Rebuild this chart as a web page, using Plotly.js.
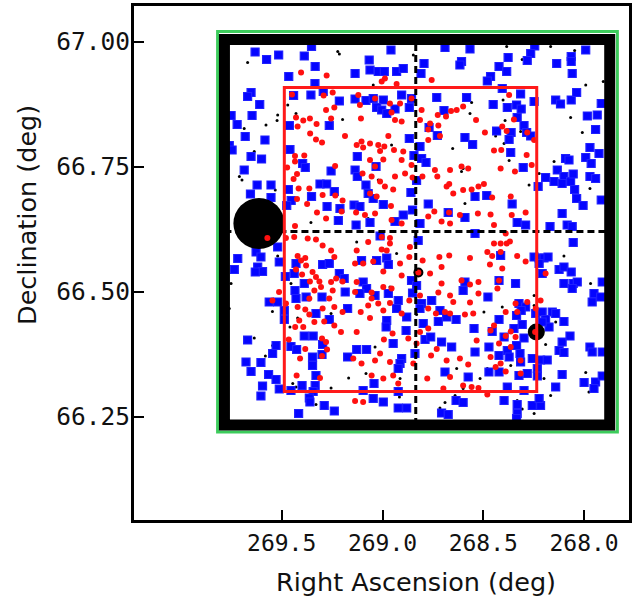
<!DOCTYPE html>
<html>
<head>
<meta charset="utf-8">
<script src="https://cdn.plot.ly/plotly-3.0.1.min.js"></script>
<style>html,body{margin:0;padding:0;background:#fff;}#chart{width:640px;height:600px;}</style>
</head>
<body>
<div id="chart"></div>
<script>
// Catalogue sources (RA, Dec in degrees)
const blueStars = [
[269.632,66.979],[269.575,66.964],[269.515,66.973],[269.388,66.971],[269.352,66.990],[269.334,66.950],[269.465,66.930],[269.335,66.916],[269.294,66.900],[269.355,66.893],
[269.441,66.892],[269.652,66.898],[269.669,66.890],[269.609,66.874],[269.647,66.852],[269.751,66.852],[269.721,66.834],[269.681,66.810],[269.583,66.803],[269.760,66.792],
[269.746,66.783],[269.652,66.770],[269.600,66.765],[269.686,66.743],[269.396,66.756],[269.383,66.748],[269.459,66.784],[269.462,66.832],[269.264,66.832],[269.214,66.881],
[269.255,66.741],[269.622,66.713],[269.553,66.713],[269.655,66.695],[269.553,66.688],[269.467,66.704],[269.453,66.682],[269.475,66.672],[269.310,66.715],[269.277,66.715],
[269.239,66.700],[269.352,66.690],[269.275,66.670],[269.211,66.666],[269.219,66.642],
[268.958,66.983],[269.066,66.963],[269.136,66.936],[269.062,66.943],[269.021,66.940],[268.991,66.940],[268.930,66.940],[268.897,66.946],[268.809,66.936],[268.794,66.956],
[268.690,66.988],[268.566,66.985],[268.608,66.960],[268.616,66.953],[269.136,66.885],[269.082,66.882],[269.046,66.886],[268.996,66.883],[269.029,66.868],[269.004,66.863],
[268.979,66.856],[268.938,66.865],[268.905,66.893],[268.867,66.868],[268.856,66.886],[268.731,66.888],[268.695,66.862],[268.583,66.888],[268.769,66.828],[268.728,66.812],
[268.591,66.808],[268.553,66.794],[268.867,66.806],[268.814,66.790],[268.844,66.772],[268.806,66.766],[268.784,66.758],[269.125,66.770],[269.032,66.750],[269.136,66.743],
[269.125,66.730],[269.082,66.713],[269.071,66.696],[269.046,66.686],[268.996,66.674],[268.859,66.698],[268.831,66.722],[268.773,66.675],[269.141,66.673],[269.112,66.670],
[268.897,66.653],[268.851,66.663],[268.674,66.658],[268.591,66.648],[269.131,66.633],[269.062,66.638],[268.938,66.640],[268.814,66.636],[268.541,66.690],
[268.245,66.991],[268.265,66.976],[268.282,66.962],[268.377,66.968],[268.422,66.950],[268.384,66.940],[268.464,66.930],[268.480,66.921],[268.136,66.956],[268.064,66.970],
[268.064,66.960],[268.059,66.936],[267.992,66.983],[268.406,66.906],[268.315,66.895],[268.451,66.874],[268.381,66.868],[268.335,66.873],[268.312,66.865],[268.248,66.880],
[268.141,66.883],[268.117,66.875],[268.064,66.883],[268.037,66.898],[267.915,66.876],[267.984,66.851],[267.935,66.853],[267.943,66.824],[268.332,66.848],[268.298,66.832],
[268.362,66.818],[268.434,66.821],[268.285,66.818],[268.265,66.811],[268.372,66.804],[268.364,66.778],[268.302,66.748],[267.971,66.788],[267.926,66.776],[267.992,66.768],
[267.965,66.756],[268.092,66.766],[268.075,66.763],[268.133,66.743],[268.191,66.728],[268.149,66.720],[268.100,66.730],[268.067,66.720],[268.054,66.735],[268.109,66.716],
[268.047,66.704],[267.971,66.730],[267.943,66.726],[268.228,66.710],[268.037,66.686],[268.005,66.672],[267.915,66.683],[268.483,66.692],[268.357,66.675],[268.109,66.656],
[268.169,66.630],[268.084,66.633],[268.059,66.630],[268.332,66.638],[268.290,66.633],
[269.627,66.579],[269.603,66.569],[269.520,66.589],[269.512,66.559],[269.718,66.566],[269.735,66.544],[269.619,66.549],[269.595,66.540],[269.631,66.539],[269.482,66.530],
[269.429,66.556],[269.438,66.536],[269.388,66.516],[269.379,66.489],[269.434,66.502],[269.429,66.486],[269.297,66.554],[269.300,66.489],[269.264,66.556],[269.214,66.536],
[269.190,66.526],[269.185,66.499],[269.173,66.466],[269.562,66.479],[269.520,66.479],[269.487,66.462],[269.487,66.444],[269.330,66.456],[269.264,66.444],[269.388,66.411],
[269.344,66.411],[269.454,66.390],[269.426,66.384],[269.297,66.394],[269.300,66.374],[269.347,66.369],[269.347,66.352],[269.528,66.392],[269.545,66.376],[269.669,66.403],
[269.677,66.359],[269.652,66.340],[269.603,66.358],[269.565,66.334],[269.528,66.324],[269.595,66.311],[269.603,66.291],[269.512,66.305],[269.454,66.302],[269.399,66.312],
[269.330,66.332],[269.334,66.312],[269.344,66.300],[269.363,66.287],[269.360,66.279],[269.289,66.272],[269.239,66.261],[269.416,66.256],[269.173,66.369],
[269.012,66.611],[268.823,66.602],[268.541,66.616],[269.104,66.562],[269.029,66.562],[268.979,66.567],[268.971,66.554],[269.096,66.519],[269.079,66.506],[269.112,66.496],
[268.971,66.496],[269.037,66.492],[268.922,66.482],[268.930,66.466],[268.880,66.449],[268.979,66.442],[268.982,66.429],[268.883,66.422],[268.947,66.396],[269.128,66.384],
[269.079,66.384],[268.905,66.366],[268.913,66.356],[268.922,66.346],[268.839,66.376],[268.856,66.522],[268.831,66.512],[268.851,66.497],[268.806,66.476],[268.814,66.466],
[268.756,66.482],[268.715,66.462],[268.682,66.449],[268.723,66.440],[268.635,66.444],[268.798,66.436],[268.789,66.404],[268.761,66.409],[268.707,66.399],[268.657,66.389],
[268.546,66.426],[268.541,66.379],[268.591,66.519],[268.600,66.502],[268.690,66.339],[268.575,66.329],[269.042,66.316],[269.096,66.302],[268.922,66.300],[269.046,66.286],
[268.996,66.279],[268.922,66.267],[268.880,66.267],[268.635,66.282],[268.600,66.278],[268.707,66.257],[268.674,66.254],
[268.054,66.598],[268.248,66.569],[268.223,66.567],[268.199,66.567],[268.179,66.569],[268.223,66.556],[268.208,66.536],[268.124,66.544],[268.100,66.549],[268.064,66.539],
[268.100,66.516],[268.054,66.516],[268.034,66.519],[268.059,66.506],[267.910,66.519],[267.951,66.496],[267.918,66.489],[267.960,66.479],[268.340,66.516],[268.422,66.522],
[268.477,66.489],[268.414,66.572],[268.323,66.476],[268.290,66.469],[268.312,66.462],[268.240,66.456],[268.208,66.459],[268.158,66.459],[268.141,66.456],[268.191,66.444],
[268.174,66.429],[268.208,66.439],[268.100,66.440],[268.335,66.452],[268.422,66.444],[268.456,66.420],[268.307,66.434],[268.348,66.426],[268.397,66.409],[268.298,66.407],
[268.335,66.392],[268.381,66.382],[268.472,66.389],[268.422,66.372],[268.372,66.369],[268.318,66.376],[268.315,66.359],[268.257,66.366],[268.216,66.363],[268.183,66.363],
[268.282,66.336],[268.232,66.346],[268.232,66.331],[268.323,66.332],[268.422,66.339],[268.472,66.339],[268.381,66.309],[268.298,66.302],[268.109,66.399],[268.124,66.382],
[268.070,66.411],[268.100,66.378],[268.109,66.334],[268.141,66.309],[268.000,66.318],[267.943,66.319],[267.951,66.306],[267.910,66.331],[267.971,66.389],[267.960,66.379],
[267.910,66.379],[268.397,66.282],[268.332,66.274],[268.332,66.256],[268.335,66.246],[268.257,66.272],[268.216,66.272],[268.223,66.286]
];

const redStars = [
[269.404,66.938],[269.277,66.932],[269.449,66.894],[269.292,66.892],[269.247,66.898],[269.280,66.863],[269.239,66.868],[269.429,66.848],[269.393,66.842],[269.360,66.846],
[269.421,66.830],[269.327,66.835],[269.255,66.846],[269.359,66.816],[269.330,66.804],[269.300,66.798],[269.186,66.811],[269.434,66.771],[269.388,66.772],[269.473,66.748],
[269.434,66.760],[269.424,66.735],[269.441,66.725],[269.235,66.751],[269.416,66.706],[269.363,66.706],[269.297,66.693],[269.234,66.692],[269.424,66.685],[269.374,66.675],
[269.325,66.658],[269.198,66.682],[269.203,66.660],[269.434,66.631],[269.280,66.646],
[269.004,66.920],[268.988,66.926],[268.930,66.915],[268.756,66.923],[269.120,66.893],[269.037,66.886],[269.112,66.873],[268.963,66.876],[268.913,66.876],[268.856,66.886],
[268.806,66.863],[269.107,66.846],[268.955,66.858],[268.938,66.843],[268.905,66.840],[268.814,66.843],[268.764,66.836],[268.726,66.853],[268.685,66.850],[268.660,66.861],
[268.632,66.863],[268.600,66.870],[268.536,66.843],[268.723,66.832],[268.773,66.824],[268.715,66.811],[268.773,66.803],[269.128,66.793],[269.096,66.788],[269.104,66.800],
[269.062,66.796],[269.021,66.793],[268.991,66.790],[268.971,66.811],[268.943,66.783],[268.897,66.780],[269.012,66.781],[269.062,66.763],[268.996,66.764],[269.037,66.750],
[268.905,66.763],[268.856,66.753],[269.099,66.736],[269.054,66.730],[269.012,66.720],[268.988,66.710],[268.938,66.730],[268.888,66.736],[268.851,66.728],[268.802,66.730],
[268.740,66.743],[268.728,66.730],[268.665,66.743],[268.608,66.750],[268.575,66.746],[268.669,66.715],[268.682,66.710],[268.649,66.696],[268.600,66.703],[268.558,66.704],
[268.524,66.710],[269.062,66.696],[269.029,66.690],[268.947,66.704],[268.958,66.671],[269.131,66.658],[269.087,66.653],[269.037,66.656],[268.743,66.660],[268.773,66.650],
[268.707,66.640],[268.670,66.658],[268.616,66.653],[268.527,66.656],[268.955,66.643],[268.905,66.636],[268.665,66.636],
[268.372,66.893],[268.348,66.844],[268.384,66.821],[268.492,66.818],[268.406,66.830],[268.282,66.818],[268.248,66.803],[268.447,66.782],[268.411,66.783],[268.285,66.773],
[268.260,66.753],[268.414,66.746],[268.343,66.740],[268.497,66.715],[268.456,66.688],[268.364,66.690],[268.464,66.654],[268.359,66.653],[268.290,66.658],[268.447,66.633],
[269.571,66.607],[269.479,66.607],[269.438,66.609],[269.371,66.606],[269.330,66.604],[269.297,66.592],[269.255,66.582],[269.239,66.569],[269.383,66.567],[269.421,66.571],
[269.379,66.552],[269.399,66.534],[269.347,66.539],[269.330,66.529],[269.360,66.520],[269.313,66.520],[269.305,66.509],[269.338,66.502],[269.363,66.486],[269.255,66.519],
[269.230,66.526],[269.198,66.520],[269.247,66.502],[269.264,66.486],[269.513,66.499],[269.546,66.482],[269.479,66.476],[269.421,66.469],[269.383,66.464],[269.363,66.454],
[269.297,66.466],[269.239,66.469],[269.198,66.459],[269.338,66.439],[269.289,66.440],[269.239,66.432],[269.206,66.419],[269.413,66.442],[269.433,66.429],[269.393,66.429],
[269.300,66.406],[269.280,66.399],[269.465,66.404],[269.383,66.385],[269.275,66.384],[269.409,66.366],[269.300,66.371],[269.310,66.327],[269.426,66.332],[269.429,66.544],
[269.404,66.562],
[269.071,66.599],[269.004,66.609],[268.963,66.607],[268.963,66.596],[268.864,66.589],[269.128,66.582],[269.004,66.584],[268.979,66.582],[268.801,66.562],[268.718,66.569],
[268.669,66.572],[268.707,66.549],[268.566,66.567],[269.136,66.556],[269.096,66.556],[269.046,66.560],[268.996,66.540],[268.913,66.556],[268.867,66.569],[268.822,66.538],
[268.905,66.532],[268.764,66.536],[268.707,66.516],[268.608,66.522],[268.566,66.514],[268.524,66.519],[268.996,66.509],[268.955,66.506],[269.128,66.519],[269.136,66.499],
[269.054,66.498],[269.054,66.486],[269.021,66.476],[268.996,66.462],[268.963,66.477],[268.867,66.482],[268.814,66.492],[268.723,66.498],[268.665,66.492],[268.649,66.479],
[268.566,66.478],[268.524,66.496],[268.773,66.466],[268.735,66.456],[268.690,66.459],[268.665,66.456],[268.591,66.454],[268.550,66.456],[269.108,66.459],[269.062,66.447],
[268.905,66.456],[269.071,66.472],[269.128,66.419],[268.993,66.404],[268.950,66.416],[268.872,66.406],[268.831,66.396],[268.773,66.426],[268.759,66.372],[268.814,66.419],
[268.731,66.385],[268.682,66.362],[268.616,66.366],[268.533,66.402],[268.575,66.354],[269.145,66.366],[269.104,66.356],[269.012,66.376],[269.037,66.362],[268.963,66.359],
[269.054,66.332],[268.996,66.326],[268.947,66.332],[268.922,66.316],[268.847,66.356],[268.778,66.326],[268.665,66.329],[268.600,66.312],[268.524,66.307],[268.558,66.309],
[269.136,66.281],[269.096,66.279],[268.698,66.306],
[268.389,66.616],[268.447,66.596],[268.414,66.596],[268.384,66.596],[268.368,66.600],[268.480,66.579],[268.414,66.579],[268.456,66.571],[268.332,66.571],[268.290,66.560],
[268.467,66.554],[268.406,66.546],[268.422,66.522],[268.430,66.506],[268.191,66.536],[268.340,66.476],[268.282,66.479],[268.240,66.466],[268.389,66.459],[268.332,66.459],
[268.216,66.482],[268.447,66.432],[268.464,66.422],[268.364,66.420],[268.389,66.411],[268.340,66.409],[268.422,66.396],[268.364,66.389],[268.414,66.356],[268.464,66.369],
[268.315,66.362],[268.439,66.349],[268.389,66.340],[268.315,66.336],[268.480,66.294],[268.243,66.419]
];

const faintStars = [
[269.669,66.958],[269.222,66.980],[269.214,66.975],[269.470,66.873],[269.429,66.856],[269.520,66.853],[269.523,66.842],[269.578,66.833],[269.686,66.826],[269.198,66.844],
[269.636,66.780],[269.710,66.730],[269.697,66.723],[269.532,66.703],[269.355,66.638],[269.046,66.913],[268.988,66.924],[268.847,66.973],[268.955,66.793],[268.652,66.786],
[268.600,66.746],[268.608,66.740],[269.021,66.723],[268.591,66.676],[269.071,66.646],[268.566,66.856],[268.558,66.878],[268.384,66.990],[268.307,66.964],[268.166,66.990],
[268.047,66.982],[267.992,66.913],[267.905,66.920],[268.402,66.883],[268.392,66.842],[268.315,66.820],[268.439,66.811],[268.397,66.796],[268.372,66.762],[268.149,66.760],
[268.273,66.713],[268.067,66.848],[268.009,66.818],[267.971,66.706],[268.223,66.736],[269.520,66.571],[269.751,66.516],[269.454,66.516],[269.546,66.460],[269.421,66.447],
[269.459,66.429],[269.255,66.456],[269.636,66.407],[269.545,66.392],[269.581,66.371],[269.347,66.349],[269.445,66.316],[269.429,66.309],[269.255,66.307],[269.330,66.274],
[269.168,66.327],[269.760,66.466],[269.128,66.599],[268.930,66.576],[269.037,66.389],[268.963,66.509],[269.082,66.336],[268.632,66.346],[268.516,66.326],[268.640,66.292],
[268.690,66.278],[268.715,66.267],[268.913,66.326],[268.916,66.289],[268.831,66.454],[268.600,66.306],[268.100,66.571],[267.968,66.516],[268.248,66.492],[268.248,66.472],
[268.141,66.439],[268.191,66.394],[268.232,66.356],[268.199,66.326],[268.166,66.292],[268.332,66.282],[268.307,66.265],[268.248,66.256],[267.992,66.338],[267.976,66.299],
[268.406,66.469],[268.497,66.459],[268.480,66.346],[268.364,66.352]
];

// Bright stars
const brightRA = [269.613, 268.822, 268.237];
const brightDec = [66.636, 66.538, 66.419];

// Field boundaries (deg)
const greenField = {x0: 269.818, x1: 267.835, y0: 66.219, y1: 67.020};
const blackField = {x0: 269.784, x1: 267.873, y0: 66.233, y1: 67.004};
const redField   = {x0: 269.487, x1: 268.235, y0: 66.300, y1: 66.908};
const centerRA = 268.835, centerDec = 66.620;

const xTicks = [269.5, 269.0, 268.5, 268.0];
const xTickText = ['269.5', '269.0', '268.5', '268.0'];
const yTicks = [66.25, 66.50, 66.75, 67.00];
const yTickText = ['66.25', '66.50', '66.75', '67.00'];

const col = (arr, i) => arr.map(p => p[i]);

const traces = [
  {type: 'scatter', mode: 'markers', x: col(faintStars, 0), y: col(faintStars, 1),
   marker: {color: '#000000', size: 3, symbol: 'circle', opacity: 1}, hoverinfo: 'skip'},
  {type: 'scatter', mode: 'markers', x: col(blueStars, 0), y: col(blueStars, 1),
   marker: {color: '#0505ff', size: 8, symbol: 'square', opacity: 1, line: {color: '#2020ff', width: 1.2}}, hoverinfo: 'skip'},
  {type: 'scatter', mode: 'markers', x: brightRA, y: brightDec,
   marker: {color: '#000000', size: [51, 10, 17], symbol: 'circle', opacity: 1, line: {width: 0}}, hoverinfo: 'skip'},
  {type: 'scatter', mode: 'markers', x: col(redStars, 0), y: col(redStars, 1),
   marker: {color: '#ff1010', size: 6, symbol: 'circle', opacity: 1}, hoverinfo: 'skip'}
];

const shapes = [
  {type: 'rect', xref: 'x', yref: 'y', x0: greenField.x0, x1: greenField.x1, y0: greenField.y0, y1: greenField.y1,
   line: {color: '#3dcc5c', width: 3}, fillcolor: 'rgba(0,0,0,0)', layer: 'below'},
  {type: 'rect', xref: 'x', yref: 'y', x0: blackField.x0, x1: blackField.x1, y0: blackField.y0, y1: blackField.y1,
   line: {color: '#000000', width: 11}, fillcolor: 'rgba(0,0,0,0)'},
  {type: 'line', xref: 'x', yref: 'y', x0: centerRA, x1: centerRA, y0: blackField.y0, y1: blackField.y1,
   line: {color: '#000000', width: 3, dash: '7px,4px'}},
  {type: 'line', xref: 'x', yref: 'y', x0: blackField.x0, x1: blackField.x1, y0: centerDec, y1: centerDec,
   line: {color: '#000000', width: 3, dash: '7px,4px'}},
  {type: 'rect', xref: 'x', yref: 'y', x0: redField.x0, x1: redField.x1, y0: redField.y0, y1: redField.y1,
   line: {color: '#ff1a1a', width: 3}, fillcolor: 'rgba(0,0,0,0)'}
];

const axisCommon = {
  showgrid: false, zeroline: false, showline: true, linecolor: '#000', linewidth: 3, mirror: true,
  ticks: 'inside', ticklen: 10, tickwidth: 2, tickcolor: '#000'
};

const layout = {
  width: 640, height: 600,
  margin: {l: 134, r: 11, t: 6, b: 80},
  paper_bgcolor: '#ffffff', plot_bgcolor: '#ffffff',
  showlegend: false,
  xaxis: Object.assign({}, axisCommon, {range: [270.2326, 267.7773], tickmode: 'array', tickvals: xTicks, ticktext: xTickText,
    tickfont: {family: 'DejaVu Sans Mono, monospace', size: 23, color: '#111'}}),
  yaxis: Object.assign({}, axisCommon, {range: [66.043, 67.071], tickmode: 'array', tickvals: yTicks, ticktext: yTickText, ticklabelstandoff: -4,
    tickfont: {family: 'DejaVu Sans Mono, monospace', size: 24.5, color: '#111'}}),
  shapes: shapes,
  annotations: [
    {text: 'Right Ascension (deg)', xref: 'paper', yref: 'paper', x: 0.5707, y: -0.1206,
     xanchor: 'center', yanchor: 'middle', showarrow: false,
     font: {family: 'DejaVu Sans, sans-serif', size: 25.5, color: '#111'}},
    {text: 'Declination (deg)', xref: 'paper', yref: 'paper', x: -0.2162, y: 0.5934,
     xanchor: 'center', yanchor: 'middle', showarrow: false, textangle: -90,
     font: {family: 'DejaVu Sans, sans-serif', size: 25.5, color: '#111'}}
  ]
};

Plotly.newPlot('chart', traces, layout, {staticPlot: true, displayModeBar: false});
</script>
</body>
</html>
